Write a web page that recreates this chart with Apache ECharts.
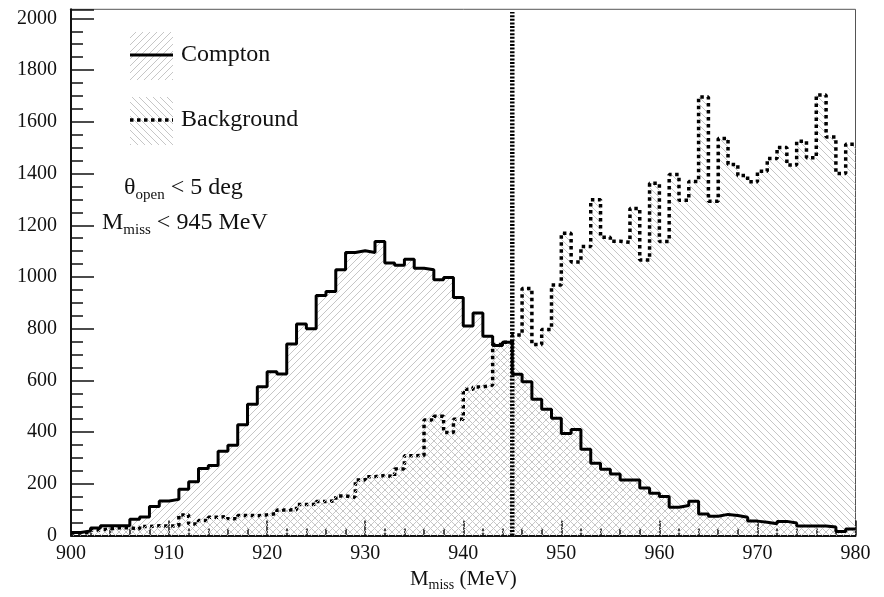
<!DOCTYPE html>
<html>
<head>
<meta charset="utf-8">
<script src="https://cdn.jsdelivr.net/npm/echarts@6/dist/echarts.min.js"></script>
<style>
  html, body { margin: 0; padding: 0; background: #fff; }
  #chart { width: 884px; height: 597px; }
</style>
</head>
<body>
<div id="chart"></div>
<script>
// bins of 1 MeV from 900 to 980
var binStart = 900;
var binWidth = 1;

var compton = [
	12, 18, 29, 38, 38, 38, 63, 72, 113, 134,
	140, 179, 208, 259, 271, 326, 349, 429, 508, 576,
	634, 625, 741, 818, 800, 928, 944, 1028, 1095, 1101,
	1095, 1137, 1054, 1045, 1069, 1034, 1028, 989, 998, 921,
	810, 861, 771, 735, 748, 624, 595, 527, 489, 454,
	395, 410, 334, 280, 257, 238, 215, 215, 184, 164,
	151, 110, 116, 133, 84, 75, 82, 78, 71, 56,
	52, 46, 55, 49, 37, 37, 37, 33, 16, 26
];

var background = [
	10, 13, 22, 26, 30, 30, 26, 35, 38, 37,
	38, 80, 45, 58, 71, 74, 65, 78, 77, 80,
	85, 99, 100, 120, 121, 132, 134, 153, 148, 215,
	228, 232, 228, 258, 309, 310, 447, 461, 399, 450,
	566, 575, 582, 739, 748, 776, 955, 739, 797, 969,
	1169, 1058, 1118, 1299, 1154, 1138, 1134, 1265, 1066, 1362,
	1137, 1396, 1297, 1369, 1696, 1293, 1535, 1435, 1392, 1368,
	1409, 1458, 1501, 1433, 1525, 1461, 1704, 1541, 1400, 1513
];

// cut line
var cutValue = 945;
var cutTop = 2025;

var serif = '"Liberation Serif", "DejaVu Serif", serif';

// histogram -> step points (left edges + closing right edge)
function toSteps(vals) {
	var pts = [];
	for (var i = 0; i < vals.length; i++) {
		pts.push([binStart + i * binWidth, vals[i]]);
	}
	pts.push([binStart + vals.length * binWidth, vals[vals.length - 1]]);
	return pts;
}

// hatch patterns, like ROOT 3004 / 3005
function hatch(up) {
	var s = 7;
	var c = document.createElement('canvas');
	c.width = s; c.height = s;
	var g = c.getContext('2d');
	g.strokeStyle = '#c6c6c6';
	g.lineWidth = 1;
	g.beginPath();
	if (up) {
		g.moveTo(0, s); g.lineTo(s, 0);
		g.moveTo(-1, 1); g.lineTo(1, -1);
		g.moveTo(s - 1, s + 1); g.lineTo(s + 1, s - 1);
	} else {
		g.moveTo(0, 0); g.lineTo(s, s);
		g.moveTo(s - 1, -1); g.lineTo(s + 1, 1);
		g.moveTo(-1, s - 1); g.lineTo(1, s + 1);
	}
	g.stroke();
	return { image: c, repeat: 'repeat' };
}

var fwd = hatch(true);
var back = hatch(false);

var chart = echarts.init(document.getElementById('chart'), null, { renderer: 'canvas' });

var option = {
	animation: false,
	grid: {
		left: 71,
		right: 28.5,
		top: 9.3,
		bottom: 58.5,
		show: true,
		borderColor: '#555',
		borderWidth: 1,
		backgroundColor: 'transparent'
	},
	xAxis: {
		type: 'value',
		min: 900,
		max: 980,
		interval: 10,
		name: '{m|M}{s|miss}{m| (MeV)}',
		nameLocation: 'middle',
		nameGap: 29,
		nameTextStyle: {
			rich: {
				m: { fontFamily: serif, fontSize: 21, color: '#111' },
				s: { fontFamily: serif, fontSize: 14, color: '#111', padding: [12, 0, 0, 0] }
			}
		},
		axisLine: { onZero: false, lineStyle: { color: '#111', width: 2 } },
		axisTick: { inside: true, length: 15, lineStyle: { color: '#111', width: 1.5 } },
		minorTick: { show: true, splitNumber: 5, length: 7, lineStyle: { color: '#111', width: 1.5 } },
		axisLabel: { fontFamily: serif, fontSize: 20, color: '#111', margin: 8 },
		splitLine: { show: false }
	},
	yAxis: [{
		type: 'value',
		position: 'left',
		min: 0,
		max: 2035,
		interval: 200,
		axisLine: { show: true, lineStyle: { color: '#111', width: 2 } },
		axisTick: { show: true, inside: true, length: 23, lineStyle: { color: '#111', width: 1.5 } },
		axisLabel: {
			fontFamily: serif, fontSize: 20, color: '#111', margin: 14,
			formatter: function (v) { return v % 200 === 0 ? String(v) : ''; }
		},
		splitLine: { show: false }
	}, {
		type: 'value',
		position: 'left',
		min: 0,
		max: 2035,
		interval: 50,
		axisLine: { show: false },
		axisTick: { show: true, inside: true, length: 12, lineStyle: { color: '#111', width: 1.5 } },
		axisLabel: { show: false },
		splitLine: { show: false }
	}],
	series: [{
		name: 'Background',
		type: 'line',
		step: 'end',
		data: toSteps(background),
		symbol: 'none',
		lineStyle: { color: '#000', width: 3.5, type: [3.5, 3.5] },
		areaStyle: { color: back, opacity: 1 },
		z: 2
	}, {
		name: 'Compton',
		type: 'line',
		step: 'end',
		data: toSteps(compton),
		symbol: 'none',
		lineStyle: { color: '#000', width: 3 },
		areaStyle: { color: fwd, opacity: 1 },
		z: 3
	}, {
		name: 'cut',
		type: 'line',
		data: [[cutValue, 0], [cutValue, cutTop]],
		symbol: 'none',
		lineStyle: { color: '#000', width: 4.5, type: [2, 1.6] },
		z: 4
	}],
	graphic: [
		{ type: 'rect', shape: { x: 130, y: 32, width: 43, height: 48 }, style: { fill: fwd } },
		{ type: 'line', shape: { x1: 130, y1: 55, x2: 173, y2: 55 }, style: { stroke: '#000', lineWidth: 3 } },
		{ type: 'text', x: 181, y: 55, style: { text: 'Compton', font: '24px ' + serif, fill: '#111', verticalAlign: 'middle' } },
		{ type: 'rect', shape: { x: 130, y: 97, width: 43, height: 48 }, style: { fill: back } },
		{ type: 'line', shape: { x1: 130, y1: 120, x2: 173, y2: 120 }, style: { stroke: '#000', lineWidth: 3.5, lineDash: [3.5, 3.5] } },
		{ type: 'text', x: 181, y: 120, style: { text: 'Background', font: '24px ' + serif, fill: '#111', verticalAlign: 'middle' } },
		{
			type: 'text', x: 124, y: 188,
			style: {
				text: '{m|θ}{s|open}{m| < 5 deg}',
				verticalAlign: 'middle',
				rich: {
					m: { fontFamily: serif, fontSize: 24, fill: '#111' },
					s: { fontFamily: serif, fontSize: 15, fill: '#111', padding: [14, 0, 0, 0] }
				}
			}
		},
		{
			type: 'text', x: 102, y: 223,
			style: {
				text: '{m|M}{s|miss}{m| < 945 MeV}',
				verticalAlign: 'middle',
				rich: {
					m: { fontFamily: serif, fontSize: 24, fill: '#111' },
					s: { fontFamily: serif, fontSize: 15, fill: '#111', padding: [14, 0, 0, 0] }
				}
			}
		}
	]
};

chart.setOption(option);
</script>
</body>
</html>
